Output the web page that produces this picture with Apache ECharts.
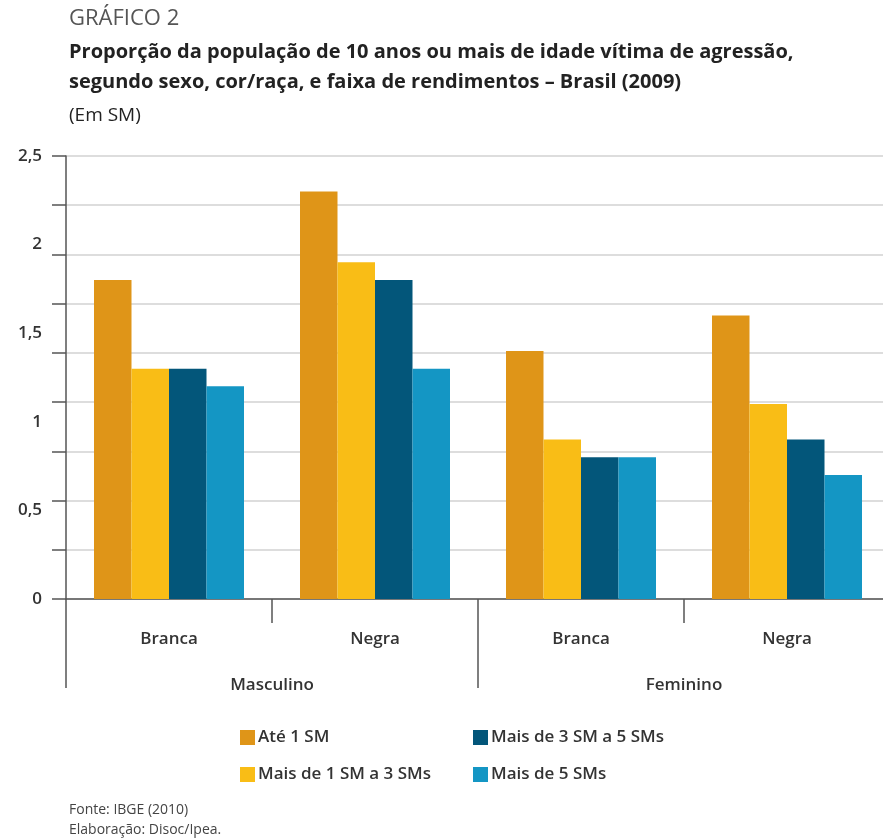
<!DOCTYPE html>
<html>
<head>
<meta charset="utf-8">
<script src="https://cdn.jsdelivr.net/npm/echarts@6/dist/echarts.min.js"></script>
<style>
  html, body { margin: 0; padding: 0; background: #fff; }
  #chart { width: 883px; height: 840px; }
</style>
</head>
<body>
<div id="chart"></div>
<script>
// Proporção de vítimas de agressão por sexo, cor/raça e faixa de rendimento (Brasil, 2009)
const sexos = ['Masculino', 'Feminino'];
const racas = ['Branca', 'Negra'];
const faixas = ['Até 1 SM', 'Mais de 1 SM a 3 SMs', 'Mais de 3 SM a 5 SMs', 'Mais de 5 SMs'];
// order: Masculino-Branca, Masculino-Negra, Feminino-Branca, Feminino-Negra
const ate1 = [1.8, 2.3, 1.4, 1.6];
const de1a3 = [1.3, 1.9, 0.9, 1.1];
const de3a5 = [1.3, 1.8, 0.8, 0.9];
const mais5 = [1.2, 1.3, 0.8, 0.7];
const yTicks = [0, 0.5, 1, 1.5, 2, 2.5];

const colors = ['#DF9518', '#F9BD16', '#03567A', '#1496C4'];
const seriesValues = [ate1, de1a3, de3a5, mais5];

const categories = [];
sexos.forEach(s => racas.forEach(r => categories.push(s + '|' + r)));

const FONT = '"Open Sans", "Noto Sans", sans-serif';
const DARK = '#333333';

const chart = echarts.init(document.getElementById('chart'), null, { renderer: 'canvas' });

const legendPos = [
  { left: 235, top: 724 },
  { left: 235, top: 761 },
  { left: 468, top: 724 },
  { left: 468, top: 761 }
];

chart.setOption({
  animation: false,
  backgroundColor: '#ffffff',
  color: colors,
  textStyle: { fontFamily: FONT },
  title: [
    { text: 'GRÁFICO 2', left: 64, top: 3,
      textStyle: { fontFamily: FONT, fontSize: 22, fontWeight: 'normal', color: '#555' } },
    { text: 'Proporção da população de 10 anos ou mais de idade vítima de agressão,\nsegundo sexo, cor/raça, e faixa de rendimentos – Brasil (2009)',
      left: 64, top: 32,
      textStyle: { fontFamily: FONT, fontSize: 20, fontWeight: 'bold', color: '#222', lineHeight: 30 } },
    { text: '(Em SM)', left: 64, top: 101,
      textStyle: { fontFamily: FONT, fontSize: 19, fontWeight: 'normal', color: '#222' } },
    { text: 'Fonte: IBGE (2010)\nElaboração: Disoc/Ipea.', left: 64, top: 795,
      textStyle: { fontFamily: FONT, fontSize: 14, fontWeight: 'normal', color: '#444', lineHeight: 20 } }
  ],
  legend: faixas.map((f, i) => ({
    data: [f],
    left: legendPos[i].left, top: legendPos[i].top,
    itemWidth: 15, itemHeight: 15, itemGap: 0,
    icon: 'rect',
    textStyle: { fontFamily: FONT, fontSize: 17, fontWeight: 600, color: DARK, padding: [0, 0, 0, -2] }
  })),
  grid: { left: 66, top: 156, width: 824, height: 443, containLabel: false, outerBoundsMode: 'none' },
  xAxis: [
    {
      type: 'category', data: categories, position: 'bottom',
      axisLine: { show: true, lineStyle: { color: '#555', width: 1.5 } },
      axisTick: { show: true, length: 24, lineStyle: { color: '#555', width: 1.5 } },
      axisLabel: { margin: 32, fontFamily: FONT, fontSize: 17, fontWeight: 600, color: DARK,
                   formatter: v => v.split('|')[1] },
      splitLine: { show: false }
    },
    {
      type: 'category', data: sexos, position: 'bottom',
      axisLine: { show: false },
      axisTick: { show: true, length: 89, lineStyle: { color: '#555', width: 1.5 } },
      axisLabel: { margin: 78, fontFamily: FONT, fontSize: 17, fontWeight: 600, color: DARK },
      splitLine: { show: false }
    }
  ],
  yAxis: [
    {
      type: 'value', min: 0, max: 2.5, interval: 0.5,
      axisLine: { show: true, lineStyle: { color: '#555', width: 1.5 } },
      axisTick: { show: false },
      splitLine: { show: false },
      axisLabel: { margin: 24, fontFamily: FONT, fontSize: 17, fontWeight: 600, color: DARK,
                   formatter: v => yTicks.includes(v) ? String(v).replace('.', ',') : '' }
    },
    {
      // nine-step grid and tick marks drawn behind the bars
      type: 'value', min: 0, max: 9, interval: 1, position: 'left',
      axisLine: { show: false },
      axisTick: { show: true, inside: false, length: 14, lineStyle: { color: '#555', width: 1.5 } },
      axisLabel: { show: false },
      splitLine: { show: true, lineStyle: { color: '#d2d2d2', width: 1.5 } }
    }
  ],
  series: faixas.map((f, i) => ({
    name: f, type: 'bar', xAxisIndex: 0, yAxisIndex: 0,
    data: seriesValues[i],
    barWidth: 37.5, barGap: '0%',
    itemStyle: { color: colors[i] }
  }))
});
</script>
</body>
</html>
